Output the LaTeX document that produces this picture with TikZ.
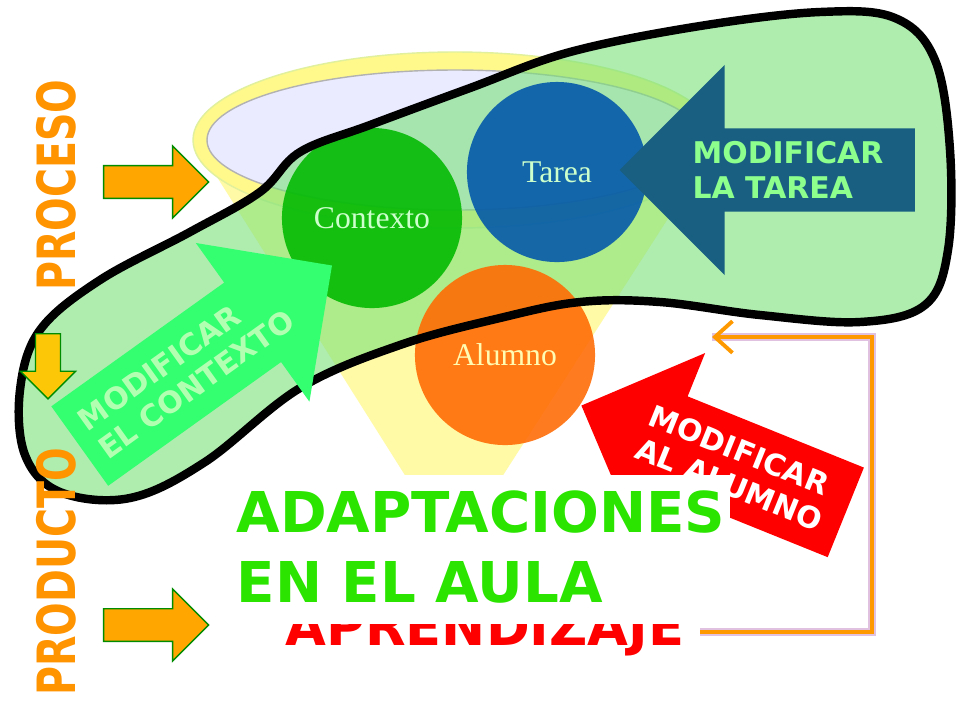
\documentclass[tikz,border=0pt]{standalone}
\usepackage{fontspec}
\usepackage{graphicx}
\setmainfont{Liberation Serif}
\newfontfamily\comicfont{DejaVu Sans}[BoldFont={DejaVu Sans Bold}]
\usetikzlibrary{shapes.arrows, arrows.meta, positioning}

\definecolor{blobgreen}{RGB}{120,225,120}
\definecolor{taskblue}{RGB}{0,85,170}
\definecolor{ctxgreen}{RGB}{0,185,0}
\definecolor{pupilorange}{RGB}{255,105,0}
\definecolor{tealarrow}{RGB}{25,95,130}

\begin{document}
\begin{tikzpicture}[x=0.01cm, y=-0.01cm,
	bubble/.style={circle, minimum size=1.8cm, inner sep=0pt, fill opacity=0.88,
		text opacity=1, text=green!20!white, font=\fontsize{9}{9}\selectfont},
	fatarrow/.style={single arrow, inner sep=1pt,
		font=\comicfont\bfseries\fontsize{8.5}{10}\selectfont, align=left},
	sidearrow/.style={single arrow, minimum height=1.05cm, minimum width=0.72cm,
		single arrow head extend=0.15cm, fill=orange!70!yellow,
		draw=green!55!black, thin},
	bigword/.style={font=\comicfont\bfseries, inner sep=0pt}
	]

\useasboundingbox (0,0) rectangle (960,720);
\fill[white] (0,0) rectangle (960,720);

% funnel
\fill[yellow!35] (200,150) -- (408,480) -- (500,480) -- (712,150) -- cycle;
\draw[yellow!70!green!40, fill=yellow!45] (455,140) ellipse [x radius=262, y radius=88];
\draw[gray!60, fill=blue!8] (455,140) ellipse [x radius=248, y radius=70];

% the green blob
\def\blobpath{plot[smooth cycle, tension=0.6] coordinates {
	(40,330) (100,280) (190,232) (260,192) (300,152) (370,125) (470,88) (570,52)
	(700,26) (820,12) (895,18) (935,60) (950,150) (948,250) (925,305) (860,322)
	(760,315) (660,302) (580,302) (500,318) (400,345) (300,388) (205,462)
	(130,498) (60,492) (25,455) (20,390)}}
\fill[blobgreen, fill opacity=0.6] \blobpath;

% circles
\node[bubble, fill=ctxgreen] (ctx) at (372,218) {Contexto};
\node[bubble, fill=taskblue] (task) at (557,172) {Tarea};
\node[bubble, fill=pupilorange, text=yellow!30!white] (pupil) at (505,355) {Alumno};

\draw[line width=2.4pt] \blobpath;

% modify arrows
\node[fatarrow, fill=tealarrow, text=green!45!white, shape border rotate=180,
	minimum height=2.95cm, minimum width=2.1cm, single arrow head extend=0.5cm,
	single arrow tip angle=90] (modtask) at (788,170) {MODIFICAR\\LA TAREA};
\node[fatarrow, fill=green!70!cyan!80, text=green!30!white, rotate=35.6,
	minimum height=3.1cm, minimum width=1.95cm, single arrow head extend=0.33cm,
	align=left] (modctx) at (186,370) {MODIFICAR\\EL CONTEXTO};
\node[fatarrow, fill=red, text=white, rotate=-22, shape border rotate=180,
	minimum height=2.85cm, minimum width=1.9cm, single arrow head extend=0.32cm,
	align=left] (modpupil) at (736,468) {MODIFICAR\\AL ALUMNO};

% side arrows and labels
\node[sidearrow] (procarrow) at (148,182) {};
\node[sidearrow] (prodarrow) at (148,625) {};
\node[sidearrow, rotate=-90, minimum height=0.65cm, minimum width=0.55cm,
	fill=yellow!60!orange] (midarrow) at (48,360) {};
\node[bigword, rotate=90, text=orange!85!yellow, font=\comicfont\bfseries\fontsize{15}{15}\selectfont]
	(proc) at (56,185) {\scalebox{0.75}[1]{PROCESO}};
\node[bigword, rotate=90, text=orange!85!yellow, font=\comicfont\bfseries\fontsize{15}{15}\selectfont]
	(prod) at (56,572) {\scalebox{0.75}[1]{PRODUCTO}};

% result box
\node[bigword, text=red, font=\comicfont\bfseries\fontsize{15}{15}\selectfont]
	(learn) at (485,632) {APRENDIZAJE};
\fill[white] (215,475) rectangle (730,624);
\node[bigword, text=green!75!lime!90!black, align=left,
	font=\comicfont\bfseries\fontsize{16}{20}\selectfont, anchor=north west]
	(title) at (236,490) {ADAPTACIONES\\EN EL AULA};

% feedback line
\coordinate (fbstart) at (700,632);
\coordinate (fbend) at (712,337);
\draw[violet!40, line width=2.4pt, opacity=0.6] (fbstart) -- (872,632) -- (872,337) -- (fbend);
\draw[orange!80!yellow, line width=1.1pt, -{Straight Barb[length=5pt, width=9pt]}]
	(fbstart) -- (872,632) -- (872,337) -- (fbend);
\end{tikzpicture}
\end{document}
